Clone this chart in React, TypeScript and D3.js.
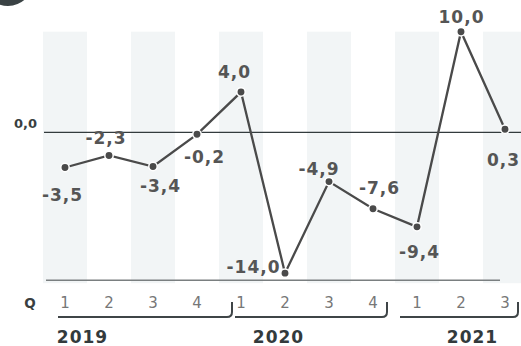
import React from "react";
import * as d3 from "d3";

// Quarterly change (%), 2019 Q1 – 2021 Q3
const quarters = ["1", "2", "3", "4", "1", "2", "3", "4", "1", "2", "3"];
const values = [-3.5, -2.3, -3.4, -0.2, 4.0, -14.0, -4.9, -7.6, -9.4, 10.0, 0.3];
const years = ["2019", "2020", "2021"];
const yearSpans = [
  [0, 3],
  [4, 7],
  [8, 10],
];

// label placement around each point: [dx, dy, anchor]
const labelPlacement: [number, number, string][] = [
  [-3, 33, "middle"],
  [-3.5, -11, "middle"],
  [7, 25.5, "middle"],
  [7, 28.5, "middle"],
  [-7, -14, "middle"],
  [-5.5, 0, "end"],
  [-10.5, -6.5, "middle"],
  [6, -15, "middle"],
  [2, 31, "middle"],
  [0, -8.5, "middle"],
  [-2, 37, "middle"],
];

// bracket ends relative to first/last quarter centres, and year label offset
const bracketLayout = [
  { start: -7, end: 35, label: 17 },
  { start: -6, end: 14, label: 37 },
  { start: -17, end: 13, label: 55 },
];

const W = 521;
const H = 346;
const FONT = "'DejaVu Sans', Verdana, sans-serif";

const fmt = d3
  .formatLocale({
    decimal: ",",
    thousands: ".",
    grouping: [3],
    currency: ["", "€"],
    minus: "-",
  })
  .format(".1f");

export default function App() {
  const x = d3
    .scaleBand<number>()
    .domain(d3.range(values.length))
    .range([43, 43 + 44 * values.length])
    .padding(0);
  const cx = (i: number) => (x(i) as number) + x.bandwidth() / 2;
  const y = d3.scaleLinear().domain([-15, 10]).range([283.2, 31.7]);

  const line = d3
    .line<number>()
    .x((_, i) => cx(i))
    .y((d) => y(d));

  const hookR = 5;
  const bracketY = 317;
  const hookTop = 302;

  return (
    <svg
      width={W}
      height={H}
      style={{ position: "absolute", left: 0, top: 0, display: "block" }}
      fontFamily={FONT}
    >
      <rect width={W} height={H} fill="#ffffff" />
      <circle cx={8} cy={-19} r={25} fill="#3a4244" />

      {/* alternating column bands */}
      {values.map((_, i) =>
        i % 2 === 0 ? (
          <rect
            key={`b${i}`}
            x={x(i)}
            y={y(10)}
            width={x.bandwidth()}
            height={y(-15) - y(10)}
            fill="#f2f5f6"
          />
        ) : null
      )}

      {/* zero line and base rule */}
      <line x1={44} x2={W} y1={y(0)} y2={y(0)} stroke="#333b3d" strokeWidth={1.3} />
      <line x1={46} x2={500} y1={y(-14.7)} y2={y(-14.7)} stroke="#7a7f80" strokeWidth={1.6} />
      <text x={37} y={128} textAnchor="end" fontSize={13} fontWeight="bold" fill="#3a3f41">
        {fmt(0)}
      </text>

      <path d={line(values) || ""} fill="none" stroke="#4a4a4a" strokeWidth={2.3} />
      {values.map((v, i) => (
        <circle key={`p${i}`} cx={cx(i)} cy={y(v)} r={4.2} fill="#4a4a4a" stroke="#ffffff" strokeWidth={1.5} />
      ))}

      {values.map((v, i) => {
        const [dx, dy, anchor] = labelPlacement[i];
        return (
          <text
            key={`l${i}`}
            x={cx(i) + dx + (anchor === "end" ? 1 : 0.5)}
            y={y(v) + dy}
            textAnchor={anchor}
            fontSize={17}
            fontWeight="bold"
            letterSpacing={1}
            fill="#555555"
          >
            {fmt(v)}
          </text>
        );
      })}

      {/* quarter axis */}
      <text x={30} y={307.5} textAnchor="middle" fontSize={13.5} fontWeight="bold" fill="#3a3f41">
        Q
      </text>
      {quarters.map((q, i) => (
        <text key={`q${i}`} x={cx(i)} y={307.5} textAnchor="middle" fontSize={15} fill="#777777">
          {q}
        </text>
      ))}

      {/* year brackets */}
      {yearSpans.map(([a, b], k) => {
        const L = bracketLayout[k];
        const x0 = cx(a) + L.start;
        const x1 = cx(b) + L.end;
        const d = `M${x0},${bracketY}H${x1 - hookR}Q${x1},${bracketY} ${x1},${bracketY - hookR}V${hookTop}`;
        return (
          <g key={`y${k}`}>
            <path d={d} fill="none" stroke="#3f4547" strokeWidth={2} />
            <text
              x={cx(a) + L.label + 0.5}
              y={343}
              textAnchor="middle"
              fontSize={17}
              fontWeight="bold"
              letterSpacing={1}
              fill="#333a3c"
            >
              {years[k]}
            </text>
          </g>
        );
      })}
    </svg>
  );
}
